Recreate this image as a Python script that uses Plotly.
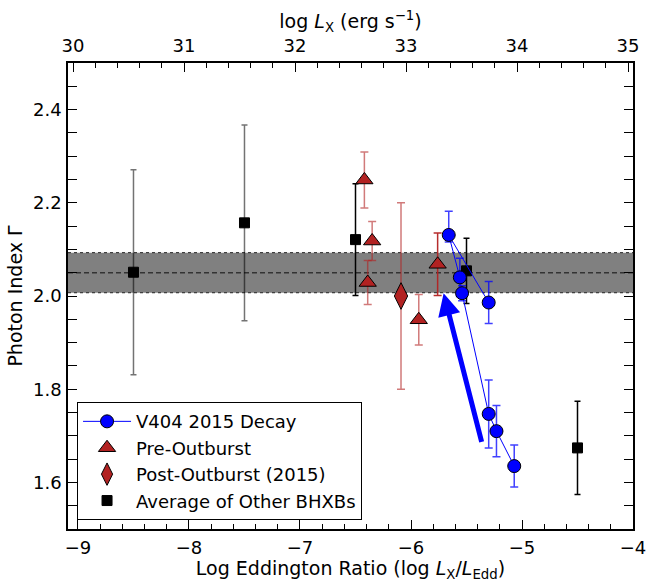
import plotly.graph_objects as go

# ---------------- data ----------------
decay_x = [-5.30, -5.66, -5.56, -5.54, -5.30, -5.23, -5.07]
decay_g = [1.986, 2.131, 2.040, 2.006, 1.747, 1.710, 1.635]
decay_err_up = [0.045, 0.051, 0.041, 0.016, 0.073, 0.055, 0.045]
decay_err_dn = [0.045, 0.015, 0.041, 0.016, 0.073, 0.055, 0.045]

pre_x = [-6.42, -6.35, -6.39, -5.93, -5.76]
pre_g = [2.249, 2.118, 2.029, 1.949, 2.068]
pre_err = [0.060, 0.042, 0.047, 0.054, 0.067]
pre_alpha = [0.6, 0.6, 0.6, 0.6, 0.95]

post_x = [-6.09]
post_g = [2.00]
post_err = [0.20]

bh_x = [-8.5, -7.5, -6.5, -5.5, -4.5]
bh_g = [2.051, 2.157, 2.121, 2.054, 1.674]
bh_err = [0.22, 0.21, 0.12, 0.07, 0.10]
bh_alpha = [0.55, 0.55, 1.0, 1.0, 1.0]

band_center = 2.05
band_half = 0.043

arrow_tail = (-5.36, 1.684)
arrow_head = (-5.706, 2.006)

x_range = [-9.09, -4.0]
lx_range = [29.955, 35.045]
y_range = [1.5, 2.5]

FONT = "DejaVu Sans"
fig = go.Figure()

# invisible trace so that the top (log L_X) axis is drawn
fig.add_trace(go.Scatter(x=lx_range, y=[None, None], xaxis="x2", yaxis="y",
                         mode="markers", showlegend=False, hoverinfo="skip"))

# Average of other BHXBs
for i in range(len(bh_x)):
    fig.add_trace(go.Scatter(
        x=[bh_x[i]], y=[bh_g[i]], mode="markers",
        name="Average of Other BHXBs", legendgroup="bh",
        showlegend=(i == 0), legendrank=4,
        marker=dict(symbol="square", size=10, color="black",
                    line=dict(color="black", width=1)),
        error_y=dict(type="data", array=[bh_err[i]], visible=True,
                     color=f"rgba(0,0,0,{bh_alpha[i]})", thickness=1.5, width=3),
    ))

# Pre-outburst
for i in range(len(pre_x)):
    fig.add_trace(go.Scatter(
        x=[pre_x[i]], y=[pre_g[i]], mode="markers",
        name="Pre-Outburst", legendgroup="pre",
        showlegend=(i == 0), legendrank=2,
        marker=dict(symbol="triangle-up", size=15, color="#B22222",
                    line=dict(color="black", width=1)),
        error_y=dict(type="data", array=[pre_err[i]], visible=True,
                     color=f"rgba(178,34,34,{pre_alpha[i]})", thickness=1.5, width=4),
    ))

# Post-outburst
fig.add_trace(go.Scatter(
    x=post_x, y=post_g, mode="markers",
    name="Post-Outburst (2015)", legendrank=3,
    marker=dict(symbol="diamond-tall", size=19, color="#B22222",
                line=dict(color="black", width=1)),
    error_y=dict(type="data", array=post_err, visible=True,
                 color="rgba(178,34,34,0.6)", thickness=1.5, width=4),
))

# V404 decay
fig.add_trace(go.Scatter(
    x=decay_x, y=decay_g, mode="lines+markers",
    name="V404 2015 Decay", legendrank=1,
    line=dict(color="blue", width=1),
    marker=dict(symbol="circle", size=13, color="blue",
                line=dict(color="black", width=1)),
    error_y=dict(type="data", symmetric=False, array=decay_err_up,
                 arrayminus=decay_err_dn, visible=True,
                 color="rgba(0,0,255,0.75)", thickness=1.5, width=4),
))

# shaded band
fig.add_shape(type="rect", xref="x domain", yref="y", x0=0, x1=1,
              y0=band_center - band_half, y1=band_center + band_half,
              fillcolor="#808080", line=dict(width=0), layer="below")
for yy in (band_center - band_half, band_center + band_half):
    fig.add_shape(type="line", xref="x domain", yref="y", x0=0, x1=1,
                  y0=yy, y1=yy, line=dict(color="#222222", width=1, dash="dot"),
                  layer="below")
fig.add_shape(type="line", xref="x domain", yref="y", x0=0, x1=1,
              y0=band_center, y1=band_center,
              line=dict(color="#333333", width=1.5, dash="5px,3px"), layer="below")

# arrow
fig.add_annotation(x=arrow_head[0], y=arrow_head[1], ax=arrow_tail[0], ay=arrow_tail[1],
                   xref="x", yref="y", axref="x", ayref="y", text="",
                   showarrow=True, arrowhead=2, arrowsize=0.9, arrowwidth=5,
                   arrowcolor="blue")

tickfont = dict(family=FONT, size=18, color="black")
titlefont = dict(family=FONT, size=19, color="black")
common = dict(showgrid=False, zeroline=False, showline=True, linecolor="black",
              linewidth=1.5, ticks="inside", ticklen=9, tickwidth=1.2,
              tickcolor="black", tickfont=tickfont, automargin=False)

fig.update_layout(
    width=649, height=582,
    margin=dict(l=68, r=16, t=63, b=53),
    paper_bgcolor="white", plot_bgcolor="white",
    font=dict(family=FONT, size=18, color="black"),
    xaxis=dict(range=x_range, dtick=1, tick0=-9, mirror=True, ticklabelstandoff=2,
               minor=dict(dtick=0.2, ticks="inside", ticklen=5, tickcolor="black"),
               title=dict(text="Log Eddington Ratio (log <i>L</i><sub>X</sub>/<i>L</i><sub>Edd</sub>)",
                          font=titlefont, standoff=7),
               **common),
    xaxis2=dict(range=lx_range, dtick=1, tick0=30, overlaying="x", side="top",
                anchor="y", ticklabelstandoff=2,
                minor=dict(dtick=0.2, ticks="inside", ticklen=5, tickcolor="black"),
                title=dict(text="log <i>L</i><sub>X</sub> (erg s<sup>−1</sup>)",
                           font=titlefont, standoff=1),
                **common),
    yaxis=dict(range=y_range, dtick=0.2, tick0=1.6, tickformat=".1f", mirror="allticks",
               ticklabelstandoff=1,
               minor=dict(dtick=0.05, ticks="inside", ticklen=5, tickcolor="black"),
               title=dict(text="Photon Index Γ", font=titlefont, standoff=5),
               **common),
    legend=dict(x=0.016, y=0.019, xanchor="left", yanchor="bottom",
                bgcolor="white", bordercolor="black", borderwidth=1,
                tracegroupgap=0, itemwidth=48,
                font=dict(family=FONT, size=18)),
    showlegend=True,
)

fig.write_html("out.html", config={"displayModeBar": False},
               post_script="document.body.style.margin='0';document.body.style.overflow='hidden';")
